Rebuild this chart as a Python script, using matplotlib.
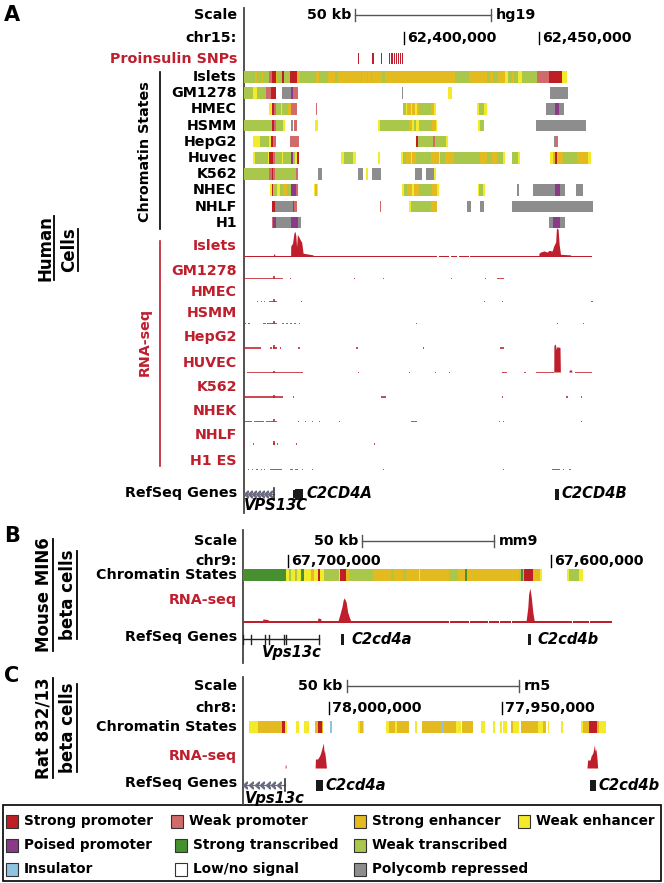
"""Chromatin states and RNA-seq around C2CD4A/B in human, mouse and rat beta cells."""

import numpy as np
import matplotlib
matplotlib.use("Agg")
import matplotlib.pyplot as plt
from matplotlib.patches import Rectangle
from matplotlib.transforms import offset_copy

plt.rcParams['font.family'] = ['DejaVu Sans']
plt.rcParams['font.weight'] = 'bold'

# ---------------------------------------------------------------- colours
RED = '#BF1E2D'
STATE_COLORS = {
    'SP': '#BE1E24', 'WP': '#D16A6A', 'SE': '#E3BA20', 'WE': '#F4EA2C',
    'PP': '#8A3A88', 'ST': '#46902F', 'WT': '#A9C74A', 'INS': '#8EC4E2',
    'LOW': '#FFFFFF', 'PC': '#8D8D8D',
}
STATE_NAMES = {
    'SP': 'Strong promoter', 'WP': 'Weak promoter', 'SE': 'Strong enhancer',
    'WE': 'Weak enhancer', 'PP': 'Poised promoter', 'ST': 'Strong transcribed',
    'WT': 'Weak transcribed', 'INS': 'Insulator', 'LOW': 'Low/no signal',
    'PC': 'Polycomb repressed',
}

# ---------------------------------------------------------------- panel A data (kb from window start)
human_start = 62341.0          # kb, hg19 chr15
human_span = 130.3
human_ticks = [62400, 62450]
human_scale_start = 62382.0

snps_A = [42.2, 47.6, 50.6, 53.8, 54.6, 55.4, 56.2, 57.0, 57.8, 58.4]

islets_states = [
    (0.0, 4.0, 'WT'), (4.0, 4.7, 'SE'), (4.7, 6.5, 'WT'), (6.5, 7.1, 'SE'), (7.1, 9.3, 'WT'),
    (9.3, 10.2, 'WP'), (10.2, 11.8, 'SP'), (11.8, 12.2, 'SE'), (12.2, 14.2, 'WT'), (14.2, 14.8, 'SP'),
    (14.8, 16.9, 'WT'), (16.9, 19.6, 'SP'), (19.6, 20.6, 'SE'), (20.6, 26.5, 'WT'), (26.5, 27.7, 'SE'),
    (27.7, 31.0, 'WT'), (31.0, 33.5, 'SE'), (33.5, 34.7, 'WT'), (34.7, 43.0, 'SE'), (43.0, 43.6, 'WT'),
    (43.6, 45.3, 'SE'), (45.3, 45.8, 'WT'), (45.8, 46.8, 'SE'), (46.8, 47.4, 'WT'), (47.4, 51.1, 'SE'),
    (51.1, 51.9, 'WT'), (51.9, 77.7, 'SE'), (77.7, 83.0, 'WT'), (83.0, 89.6, 'SE'), (89.6, 90.8, 'WT'),
    (90.8, 92.0, 'SE'), (92.0, 93.9, 'WT'), (93.9, 96.3, 'SE'), (96.3, 97.3, 'WE'), (97.3, 98.8, 'WT'),
    (98.8, 99.7, 'SE'), (99.7, 101.2, 'WT'), (101.2, 102.5, 'WE'), (102.5, 108.3, 'WT'),
    (108.3, 112.5, 'WP'), (112.5, 117.4, 'SP'), (117.4, 119.2, 'WE'),
]
gm1278_states = [
    (0.0, 3.4, 'WT'), (3.4, 4.9, 'WE'), (4.9, 8.1, 'WT'), (8.1, 9.8, 'WP'), (9.8, 11.8, 'SP'),
    (13.9, 17.2, 'PC'), (17.2, 18.1, 'PP'), (18.1, 20.0, 'WP'), (58.4, 58.8, 'PC'),
    (75.3, 76.8, 'WE'), (113.0, 119.6, 'PC'),
]
hmec_states = [
    (9.3, 10.2, 'WE'), (10.2, 11.0, 'SP'), (11.0, 11.8, 'WP'), (11.8, 13.6, 'WT'), (13.6, 14.2, 'WE'),
    (14.2, 16.3, 'WT'), (16.3, 17.5, 'SE'), (17.5, 19.6, 'WP'), (26.5, 26.9, 'WP'),
    (58.5, 59.7, 'WT'), (59.7, 60.3, 'WE'), (60.3, 61.5, 'SE'), (61.5, 62.1, 'WE'), (62.1, 63.0, 'SE'),
    (63.0, 63.7, 'WE'), (63.7, 64.6, 'SE'), (64.6, 69.1, 'WT'), (69.1, 70.1, 'SE'), (70.1, 70.8, 'WE'),
    (85.9, 86.8, 'WE'), (86.8, 88.7, 'WT'), (88.7, 89.6, 'WE'),
    (111.4, 114.7, 'PC'), (114.7, 116.2, 'PP'), (116.2, 118.1, 'PC'),
]
hsmm_states = [
    (0.0, 10.2, 'WT'), (10.2, 11.1, 'SP'), (11.1, 11.8, 'WP'), (11.8, 14.5, 'WT'), (14.5, 15.1, 'WE'),
    (17.3, 18.1, 'PC'), (18.4, 19.4, 'WP'), (26.2, 27.3, 'WE'),
    (49.6, 50.3, 'WE'), (50.3, 60.9, 'WT'), (60.9, 62.1, 'SE'), (62.1, 62.8, 'WE'), (62.8, 63.3, 'WT'),
    (63.3, 64.6, 'WE'), (64.6, 69.5, 'WT'), (69.5, 70.7, 'SE'), (70.7, 71.1, 'WE'),
    (86.5, 87.1, 'WE'), (87.1, 88.7, 'WT'), (107.7, 126.1, 'PC'),
]
hepg2_states = [
    (3.4, 5.9, 'WE'), (5.9, 9.3, 'WT'), (9.3, 9.8, 'WE'), (9.8, 10.8, 'SP'), (10.8, 11.8, 'WP'),
    (16.9, 20.3, 'WP'), (63.5, 64.3, 'SP'), (64.3, 69.9, 'WT'), (69.9, 70.5, 'WP'),
    (70.5, 74.4, 'WT'), (74.4, 75.3, 'WE'), (114.3, 115.1, 'PC'), (115.1, 115.7, 'WP'),
]
huvec_states = [
    (3.4, 4.0, 'WE'), (4.0, 8.9, 'WT'), (8.9, 9.3, 'WE'), (9.3, 10.8, 'SP'), (10.8, 11.4, 'WP'),
    (11.4, 13.9, 'WT'), (13.9, 14.4, 'WE'), (14.4, 17.2, 'WT'), (17.2, 18.1, 'PP'), (18.1, 18.8, 'WT'),
    (18.8, 19.6, 'WE'), (19.6, 20.3, 'SP'), (35.9, 36.8, 'WE'), (36.8, 40.2, 'WT'), (40.2, 41.2, 'WE'),
    (49.6, 50.3, 'WE'), (57.8, 58.8, 'WE'), (58.8, 59.7, 'WT'), (59.7, 61.5, 'SE'), (61.5, 62.1, 'WE'),
    (62.1, 63.3, 'SE'), (63.3, 69.1, 'WT'), (69.1, 71.9, 'SE'), (71.9, 72.5, 'WE'), (72.5, 74.0, 'WT'),
    (74.0, 77.5, 'SE'), (77.5, 87.1, 'WT'), (87.1, 89.6, 'SE'), (89.6, 91.4, 'WT'), (91.4, 93.3, 'SE'),
    (93.3, 95.7, 'WT'), (95.7, 96.3, 'WE'), (99.0, 101.2, 'WT'), (101.2, 101.8, 'WE'),
    (112.9, 114.1, 'WE'), (114.1, 114.7, 'SE'), (114.7, 115.6, 'SP'), (115.6, 117.8, 'SE'),
    (117.8, 122.7, 'WT'), (122.7, 126.9, 'SE'), (126.9, 127.9, 'WE'),
]
k562_states = [
    (0.0, 9.3, 'WT'), (9.3, 10.2, 'WP'), (10.2, 10.8, 'SP'), (10.8, 11.4, 'WP'), (11.4, 19.1, 'WT'),
    (19.1, 19.9, 'WP'), (27.3, 28.6, 'PC'), (42.0, 43.8, 'PC'), (45.0, 45.6, 'WE'), (47.4, 50.7, 'PC'),
    (63.0, 65.8, 'PC'), (67.0, 70.1, 'PC'), (70.1, 70.7, 'WE'),
]
nhec_states = [
    (9.6, 10.4, 'WE'), (10.4, 10.8, 'SP'), (10.8, 12.0, 'WT'), (12.0, 13.2, 'WE'), (13.2, 14.4, 'WT'),
    (14.4, 15.7, 'SE'), (15.7, 17.2, 'WT'), (17.2, 19.1, 'PP'), (19.1, 19.9, 'WP'),
    (25.8, 26.2, 'WE'), (26.2, 27.0, 'SE'), (27.0, 27.4, 'WE'),
    (58.2, 59.1, 'WE'), (59.1, 60.3, 'WT'), (60.3, 62.1, 'SE'), (62.1, 62.8, 'WE'), (62.8, 64.6, 'SE'),
    (64.6, 69.5, 'WT'), (69.5, 71.3, 'SE'), (71.3, 71.9, 'WE'),
    (86.3, 86.8, 'WE'), (86.8, 88.3, 'WT'), (88.3, 88.9, 'WE'), (100.6, 101.6, 'PC'),
    (106.5, 114.7, 'PC'), (114.7, 116.5, 'PP'), (116.5, 118.4, 'PC'), (122.4, 125.1, 'PC'),
]
nhlf_states = [
    (10.2, 11.4, 'SP'), (11.4, 11.8, 'WP'), (11.8, 17.9, 'PC'), (17.9, 18.4, 'PP'), (18.4, 19.6, 'WP'),
    (50.0, 50.4, 'WP'), (60.9, 61.5, 'WE'), (61.5, 69.1, 'WT'), (69.1, 71.1, 'SE'),
    (82.4, 83.6, 'PC'), (87.1, 88.7, 'PC'), (99.0, 128.6, 'PC'),
]
h1_states = [
    (10.2, 10.8, 'WP'), (10.8, 11.8, 'PP'), (11.8, 17.2, 'PC'), (17.2, 19.9, 'PP'), (19.9, 21.2, 'PC'),
    (112.5, 114.1, 'PC'), (114.1, 116.5, 'PP'), (116.5, 118.6, 'PC'),
]
chrom_cells_A = ['Islets', 'GM1278', 'HMEC', 'HSMM', 'HepG2', 'Huvec', 'K562', 'NHEC', 'NHLF', 'H1']
chrom_tracks_A = [islets_states, gm1278_states, hmec_states, hsmm_states, hepg2_states,
                  huvec_states, k562_states, nhec_states, nhlf_states, h1_states]

# RNA-seq signal: (kb, signal 0-100) for peaks; (start, end, signal) for sparse reads
islets_rna_peaks = [
    (10.8, 0), (10.9, 7), (11.3, 7), (11.4, 0),
    (17.2, 0), (17.25, 36), (17.9, 45), (18.4, 81), (18.75, 89), (19.1, 75), (19.4, 32), (19.7, 77),
    (20.2, 69), (20.8, 57), (21.3, 49), (21.8, 10), (25.5, 4), (25.6, 0),
    (108.8, 0), (108.85, 10), (109.4, 14), (110.7, 18), (111.9, 14), (112.5, 20), (113.7, 18),
    (114.3, 36), (115.0, 50), (115.3, 100), (115.9, 96), (116.3, 40), (116.8, 6), (120.5, 4), (120.6, 0),
]
islets_rna_base = [(0.0, 71.3), (72.0, 75.5), (76.2, 78.5), (79.2, 83.0), (83.5, 128.4)]
huvec_rna_peaks = [
    (114.3, 0), (114.35, 95), (114.9, 100), (115.2, 80), (115.4, 90), (116.6, 88), (116.75, 0),
    (119.9, 0), (120.0, 7), (120.9, 7), (121.0, 0),
]
gm1278_rna = [(0.0, 14.3, 4), (10.8, 11.3, 11), (17.0, 17.5, 4), (40.6, 41.0, 4), (51.3, 51.7, 4),
              (76.4, 76.8, 4), (88.8, 89.2, 4), (93.5, 96.0, 4)]
hmec_rna = [(4.7, 5.1, 4), (6.3, 6.7, 4), (7.2, 7.6, 4), (9.3, 12.0, 4), (10.8, 11.3, 9),
            (21.0, 21.4, 4), (88.4, 88.8, 4), (95.1, 95.5, 4), (128.2, 128.6, 4)]
hsmm_rna = [(0.0, 0.6, 4), (1.6, 2.2, 4), (7.1, 8.0, 4), (8.6, 12.0, 4), (10.8, 11.3, 9),
            (13.9, 14.6, 4), (15.5, 16.3, 4), (17.0, 17.6, 4), (18.6, 19.2, 4), (20.2, 20.6, 4),
            (63.3, 63.7, 4), (115.6, 116.0, 4), (125.2, 125.6, 4)]
hepg2_rna = [(0.0, 6.3, 4), (9.6, 10.2, 4), (10.8, 12.0, 4), (10.8, 11.3, 11), (13.3, 13.7, 4),
             (20.1, 20.5, 4), (41.5, 41.9, 4), (66.1, 66.5, 4), (94.4, 96.0, 4)]
huvec_rna = [(1.0, 21.8, 4), (10.8, 11.3, 7), (42.2, 42.6, 4), (60.8, 61.2, 4), (70.6, 71.0, 4),
             (75.5, 75.9, 4), (95.3, 97.2, 4), (103.5, 103.9, 4), (107.6, 114.3, 4), (122.3, 128.4, 4)]
k562_rna = [(0.0, 14.3, 4), (10.8, 11.3, 9), (17.9, 18.3, 4), (50.6, 52.5, 4), (95.1, 95.5, 4),
            (119.0, 119.4, 4), (124.5, 124.9, 4)]
nhek_rna = [(0.0, 3.0, 4), (3.8, 7.5, 4), (8.3, 11.0, 4), (10.8, 11.3, 11), (11.4, 12.0, 4),
            (20.0, 20.4, 4), (22.5, 22.9, 4), (25.0, 25.4, 4), (27.5, 27.9, 4), (35.1, 35.5, 4),
            (61.6, 63.7, 4), (94.1, 94.5, 4), (95.6, 96.0, 4), (124.5, 124.9, 4)]
nhlf_rna = [(0.0, 0.5, 4), (3.3, 3.7, 4), (10.8, 11.6, 4), (10.8, 11.3, 11), (12.2, 12.6, 4),
            (19.2, 19.6, 4), (48.0, 48.4, 4)]
h1_rna = [(0.0, 0.4, 4), (1.5, 1.9, 4), (3.0, 3.4, 4), (4.6, 5.0, 4), (6.2, 6.6, 4), (7.4, 7.8, 4),
          (9.6, 13.9, 5), (16.9, 18.2, 4), (18.8, 19.8, 4), (21.4, 21.8, 4), (25.1, 25.5, 4),
          (51.3, 51.7, 4), (95.4, 95.8, 4), (113.7, 116.5, 4), (117.6, 118.0, 4), (120.1, 120.5, 4)]
rna_cells_A = ['Islets', 'GM1278', 'HMEC', 'HSMM', 'HepG2', 'HUVEC', 'K562', 'NHEK', 'NHLF', 'H1 ES']
rna_sparse_A = [None, gm1278_rna, hmec_rna, hsmm_rna, hepg2_rna, huvec_rna, k562_rna,
                nhek_rna, nhlf_rna, h1_rna]

# genes, panel A
vps13c_A = (0.3, 11.1)
c2cd4a_A = [(18.1, 19.0, 'utr'), (19.0, 21.8, 'cds')]
c2cd4b_A = [(114.7, 116.2, 'cds')]

# ---------------------------------------------------------------- panel B data (mm9 chr9, reversed)
mouse_start = 67717.1
mouse_span = 140.7
mouse_ticks = [67700, 67600]
mouse_scale_start = 67671.7
mouse_states = [
    (0.1, 16.3, 'ST'), (16.3, 17.6, 'WE'), (17.6, 18.3, 'WT'), (18.3, 19.8, 'WE'), (19.8, 20.6, 'WT'),
    (20.6, 22.1, 'WE'), (22.1, 23.3, 'ST'), (23.3, 25.9, 'WE'), (25.9, 27.1, 'SE'), (27.1, 28.4, 'WE'),
    (28.4, 29.3, 'SP'), (29.3, 30.9, 'WE'), (30.9, 36.6, 'WT'), (36.6, 36.9, 'WE'), (36.9, 39.2, 'SP'),
    (39.2, 40.4, 'SE'), (40.4, 49.3, 'WT'), (49.3, 56.3, 'SE'), (56.3, 57.5, 'WT'), (57.5, 60.7, 'SE'),
    (60.7, 62.0, 'WT'), (62.0, 67.0, 'SE'), (67.0, 67.4, 'WE'), (67.4, 78.4, 'SE'), (78.4, 81.6, 'WT'),
    (81.6, 84.5, 'SE'), (84.5, 85.2, 'ST'), (85.2, 105.1, 'SE'), (105.1, 105.7, 'WT'),
    (105.7, 106.3, 'ST'), (106.3, 107.0, 'SE'), (107.0, 110.2, 'SP'), (110.2, 112.8, 'SE'),
    (112.8, 113.7, 'WE'), (123.2, 124.1, 'WE'), (124.1, 127.9, 'WT'), (127.9, 129.4, 'WE'),
]
mouse_rna_peaks = [
    (7.3, 0), (7.6, 9), (8.5, 8), (9.5, 7), (10.0, 0),
    (28.2, 0), (28.5, 12), (29.5, 10), (29.8, 0),
    (36.0, 0), (36.9, 24), (37.6, 44), (38.1, 65), (38.5, 71), (39.2, 59), (39.8, 29), (40.4, 15), (41.1, 0),
    (107.6, 0), (108.3, 44), (108.6, 82), (109.1, 100), (109.6, 74), (110.2, 29), (110.8, 0),
]
mouse_rna_base = [(0.1, 78.2), (78.6, 85.8), (86.2, 93.3), (93.7, 97.3), (97.7, 102.0),
                  (102.4, 125.0), (125.4, 131.4), (131.8, 140.3)]
vps13c_B = (0.1, 29.0)
vps13c_B_exons = [0.1, 3.0, 8.5, 10.0, 15.7, 16.3, 29.0]
c2cd4a_B = [(37.3, 38.5, 'cds')]
c2cd4b_B = [(108.3, 109.5, 'cds')]

# ---------------------------------------------------------------- panel C data (rn5 chr8, reversed)
rat_start = 78025.0
rat_span = 106.4
rat_ticks = [78000, 77950]
rat_scale_start = 77995.0
rat_states = [
    (1.8, 4.3, 'WE'), (4.3, 10.1, 'SE'), (10.1, 11.3, 'SE'), (11.3, 12.3, 'SP'), (12.3, 12.7, 'WE'),
    (15.4, 16.3, 'WE'), (17.8, 19.0, 'WE'), (21.0, 21.7, 'SE'), (21.7, 22.9, 'SP'), (22.9, 23.3, 'SE'),
    (25.3, 25.7, 'INS'), (33.2, 33.9, 'WE'), (33.9, 34.7, 'SE'), (34.7, 35.2, 'WE'),
    (41.4, 42.2, 'WE'), (42.2, 44.0, 'SE'), (44.0, 44.6, 'WE'), (44.6, 48.2, 'SE'), (49.9, 50.3, 'WE'),
    (51.9, 57.4, 'SE'), (57.4, 57.9, 'INS'), (57.9, 61.7, 'SE'), (61.7, 63.2, 'WE'), (63.5, 66.8, 'SE'),
    (69.0, 70.2, 'WE'), (72.4, 73.1, 'WE'), (74.5, 75.1, 'WE'), (75.3, 76.4, 'WE'), (77.7, 78.2, 'SE'),
    (78.2, 80.1, 'WE'), (80.6, 85.4, 'SE'), (85.4, 86.9, 'WE'), (86.9, 87.8, 'SE'), (88.3, 88.8, 'WE'),
    (92.2, 92.7, 'WE'), (98.0, 98.5, 'WE'), (98.5, 100.2, 'SE'), (100.2, 102.6, 'SP'),
    (102.6, 103.1, 'SE'), (103.1, 105.2, 'WE'),
]
rat_rna_peaks = [
    (12.2, 0), (12.25, 12), (12.45, 12), (12.5, 0),
    (20.9, 0), (21.0, 36), (21.6, 36), (22.0, 44), (22.3, 52), (22.6, 64), (22.9, 80), (23.3, 100),
    (23.5, 60), (23.6, 72), (23.9, 40), (24.2, 0),
    (99.7, 0), (99.9, 32), (100.6, 32), (100.9, 48), (101.4, 60), (101.7, 80), (101.8, 92),
    (102.1, 68), (102.3, 76), (102.6, 40), (102.8, 0),
]
vps13c_C = (0.1, 12.3)
c2cd4a_C = [(21.2, 23.1, 'cds')]
c2cd4b_C = [(100.6, 102.3, 'cds')]

# legend layout: rows of (state, swatch x)
legend_rows = [
    [('SP', 6), ('WP', 171), ('SE', 354), ('WE', 518)],
    [('PP', 6), ('ST', 175), ('WT', 354)],
    [('INS', 6), ('LOW', 175), ('PC', 354)],
]

# ---------------------------------------------------------------- figure
W, H = 664, 883
FS = 10.3
fig = plt.figure(figsize=(W / 100, H / 100), dpi=100)
lay = fig.add_axes([0, 0, 1, 1])
lay.set_xlim(0, W)
lay.set_ylim(H, 0)
lay.axis('off')


def track_axes(x0, px_per_kb, span):
    ax = fig.add_axes([x0 / W, 0, span * px_per_kb / W, 1])
    ax.set_xlim(0, span)
    ax.set_ylim(H, 0)
    ax.axis('off')
    return ax


def draw_states(ax, segs, top, h):
    for code in STATE_COLORS:
        bars = [(a, b - a) for a, b, c in segs if c == code]
        if bars:
            ax.broken_barh(bars, (top, h), facecolors=STATE_COLORS[code], linewidth=0)


def draw_peaks(ax, pts, base, hmax):
    xs = np.array([p[0] for p in pts])
    vs = np.array([p[1] for p in pts])
    ax.fill_between(xs, base, base - vs / 100 * hmax, color=RED, linewidth=0)


def draw_sparse(ax, segs, base, hmax):
    for a, b, v in segs:
        ax.broken_barh([(a, b - a)], (base - v / 100 * hmax, v / 100 * hmax),
                       facecolors=RED, linewidth=0, alpha=0.8)


def draw_header(ax, y_scale, y_chr, start, sign, ticks, scale_start, asm, chrom):
    s0 = (scale_start - start) * sign
    s1 = s0 + 50
    ax.plot([s0, s1], [y_scale, y_scale], color='#555555', lw=1)
    for s in (s0, s1):
        ax.plot([s, s], [y_scale - 6, y_scale + 6], color='#555555', lw=1)
    left = offset_copy(ax.transData, fig=fig, x=-4, y=0, units='dots')
    right = offset_copy(ax.transData, fig=fig, x=5, y=0, units='dots')
    ax.text(s0, y_scale, '50 kb', ha='right', va='center', fontsize=FS, transform=left)
    ax.text(s1, y_scale, asm, ha='left', va='center', fontsize=FS, transform=right)
    lay.text(237, y_scale, 'Scale', ha='right', va='center', fontsize=FS)
    lay.text(237, y_chr, chrom, ha='right', va='center', fontsize=FS)
    tick_tr = offset_copy(ax.transData, fig=fig, x=3, y=0, units='dots')
    for t in ticks:
        off = (t - start) * sign
        ax.plot([off, off], [y_chr - 6, y_chr + 6], color='black', lw=1)
        ax.text(off, y_chr, f'{int(t * 1000):,}', ha='left', va='center',
                fontsize=FS, transform=tick_tr)


def draw_gene_block(ax, parts, y, h_cds=11, h_utr=8):
    for a, b, kind in parts:
        h = h_cds if kind == 'cds' else h_utr
        ax.broken_barh([(a, b - a)], (y - h / 2, h), facecolors='#1A1A1A', linewidth=0)


def draw_arrow_line(ax, span, y, end_tick):
    a, b = span
    ax.plot([a, b], [y, y], color='#6A6A80', lw=0.9)
    xs = np.arange(a + 0.6, b - 0.3, (b - a) / 7.5)
    ax.plot(xs, np.full_like(xs, y), ls='none', marker=r'$‹$', ms=5, color='#6A6A80')
    ax.plot([end_tick, end_tick], [y - 6, y + 6], color='#333333', lw=1.2)


def italic_label(ax, x, y, s):
    tr = offset_copy(ax.transData, fig=fig, x=3, y=0, units='dots')
    ax.text(x, y, s, ha='left', va='center', fontsize=10.6, style='italic', transform=tr)


# ---------------------------------------------------------------- panel A
axA = track_axes(244, 2.71, human_span)
lay.text(4, 15, 'A', fontsize=15, ha='left', va='center')
lay.plot([244, 244], [8, 513], color='#444444', lw=1.3)
draw_header(axA, 15, 38, human_start, 1, human_ticks, human_scale_start, 'hg19', 'chr15:')

lay.text(237, 59, 'Proinsulin SNPs', ha='right', va='center', fontsize=FS, color=RED)
axA.broken_barh([(s - 0.2, 0.45) for s in snps_A], (53, 11), facecolors=RED, linewidth=0)

for i, (name, segs) in enumerate(zip(chrom_cells_A, chrom_tracks_A)):
    top = 71 + i * 16.2
    draw_states(axA, segs, top, 11.5)
    lay.text(237, top + 6, name, ha='right', va='center', fontsize=FS)
lay.plot([160, 160], [72, 229], color='black', lw=1.2)
lay.text(145, 152, 'Chromatin States', rotation=90, ha='center', va='center', fontsize=FS)

rna_base_A = [257, 279, 302, 324, 348.5, 373, 397.5, 422, 444.5, 470]
rna_label_A = [246, 271, 292, 313, 337, 363, 387, 411, 435, 461]
for name, base, ly, sparse in zip(rna_cells_A, rna_base_A, rna_label_A, rna_sparse_A):
    lay.text(237, ly, name, ha='right', va='center', fontsize=FS, color=RED)
    if sparse is not None:
        draw_sparse(axA, sparse, base, 28)
axA.broken_barh([(a, b - a) for a, b in islets_rna_base], (255.8, 1.4), facecolors=RED, linewidth=0)
draw_peaks(axA, islets_rna_peaks, 256, 28)
draw_peaks(axA, huvec_rna_peaks, 372, 28)
lay.plot([160, 160], [241, 466], color=RED, lw=1.2)
lay.text(145, 342, 'RNA-seq', rotation=90, ha='center', va='center', fontsize=FS, color=RED)

lay.text(237, 493, 'RefSeq Genes', ha='right', va='center', fontsize=FS)
draw_arrow_line(axA, vps13c_A, 494, vps13c_A[1])
draw_gene_block(axA, c2cd4a_A, 494)
draw_gene_block(axA, c2cd4b_A, 494)
italic_label(axA, c2cd4a_A[-1][1], 494, 'C2CD4A')
italic_label(axA, c2cd4b_A[-1][1], 494, 'C2CD4B')
axA.text(0, 506, 'VPS13C', ha='left', va='center', fontsize=10.6, style='italic')

# ---------------------------------------------------------------- panel B
axB = track_axes(243, 2.63, mouse_span)
lay.text(4, 536, 'B', fontsize=15, ha='left', va='center')
lay.plot([243, 243], [530, 663], color='#444444', lw=1.3)
draw_header(axB, 541, 561, mouse_start, -1, mouse_ticks, mouse_scale_start, 'mm9', 'chr9:')
lay.text(237, 575, 'Chromatin States', ha='right', va='center', fontsize=FS)
draw_states(axB, mouse_states, 569.3, 11.5)
lay.text(237, 600, 'RNA-seq', ha='right', va='center', fontsize=FS, color=RED)
axB.broken_barh([(a, b - a) for a, b in mouse_rna_base], (621.3, 2.0), facecolors=RED, linewidth=0)
draw_peaks(axB, mouse_rna_peaks, 622, 34)
lay.text(237, 637, 'RefSeq Genes', ha='right', va='center', fontsize=FS)
axB.plot(list(vps13c_B), [639, 639], color='#222222', lw=1)
for e in vps13c_B_exons:
    axB.plot([e, e], [634.5, 643.5], color='#222222', lw=1)
draw_gene_block(axB, c2cd4a_B, 639)
draw_gene_block(axB, c2cd4b_B, 639)
italic_label(axB, c2cd4a_B[-1][1] + 1.5, 639, 'C2cd4a')
italic_label(axB, c2cd4b_B[-1][1] + 1.5, 639, 'C2cd4b')
axB.text(np.mean(vps13c_B) + 4, 653, 'Vps13c', ha='center', va='center', fontsize=10.6, style='italic')

# ---------------------------------------------------------------- panel C
axC = track_axes(243, 3.45, rat_span)
lay.text(4, 676, 'C', fontsize=15, ha='left', va='center')
lay.plot([243, 243], [677, 804], color='#444444', lw=1.3)
draw_header(axC, 686, 708, rat_start, -1, rat_ticks, rat_scale_start, 'rn5', 'chr8:')
lay.text(237, 727, 'Chromatin States', ha='right', va='center', fontsize=FS)
draw_states(axC, rat_states, 721, 12)
lay.text(237, 756, 'RNA-seq', ha='right', va='center', fontsize=FS, color=RED)
draw_peaks(axC, rat_rna_peaks, 768, 25)
lay.text(237, 783, 'RefSeq Genes', ha='right', va='center', fontsize=FS)
draw_arrow_line(axC, vps13c_C, 785, vps13c_C[1])
draw_gene_block(axC, c2cd4a_C, 785)
draw_gene_block(axC, c2cd4b_C, 785)
italic_label(axC, c2cd4a_C[-1][1], 785, 'C2cd4a')
italic_label(axC, c2cd4b_C[-1][1], 785, 'C2cd4b')
axC.text(0.5, 798, 'Vps13c', ha='left', va='center', fontsize=10.6, style='italic')

# ---------------------------------------------------------------- side labels (rotated, underlined)
side_labels = [(45, 248, 'Human'), (69, 250, 'Cells'),
               (44, 595, 'Mouse MIN6'), (68, 595, 'beta cells'),
               (44, 728, 'Rat 832/13'), (68, 728, 'beta cells')]
side_texts = [lay.text(x, y, s, rotation=90, ha='center', va='center', fontsize=12)
              for x, y, s in side_labels]
fig.canvas.draw()
for (x, y, s), t in zip(side_labels, side_texts):
    bb = t.get_window_extent()
    y0, y1 = H - bb.y1 + 1, H - bb.y0 - 1
    lay.plot([x + 8.5, x + 8.5], [y0, y1], color='black', lw=1.3)

# ---------------------------------------------------------------- legend
LFS = 9.8
lay.add_patch(Rectangle((3, 805), 658, 76, fill=False, edgecolor='black', lw=1.2))
row_y = [821, 845, 869]
for ry, row in zip(row_y, legend_rows):
    for code, sx in row:
        lay.add_patch(Rectangle((sx, ry - 6.5), 12, 13, facecolor=STATE_COLORS[code],
                                edgecolor='#333333', lw=0.8))
        lay.text(sx + 18, ry, STATE_NAMES[code], ha='left', va='center', fontsize=LFS)

fig.savefig('out.png', dpi=100)
